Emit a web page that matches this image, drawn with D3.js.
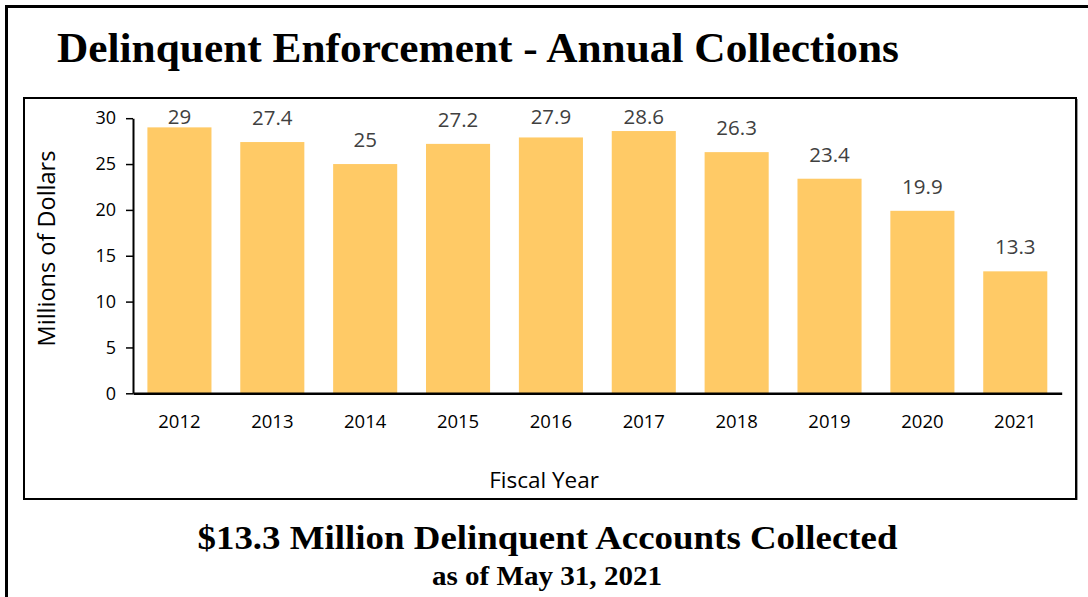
<!DOCTYPE html>
<html>
<head>
<meta charset="utf-8">
<script src="https://cdn.jsdelivr.net/npm/d3@7"></script>
<style>
  html, body { margin: 0; padding: 0; background: #fff; }
  svg { display: block; }
</style>
</head>
<body>
<svg id="chart" width="1088" height="597"></svg>
<script>
// Annual collections from delinquent enforcement, millions of dollars
const years = ["2012", "2013", "2014", "2015", "2016", "2017", "2018", "2019", "2020", "2021"];
const collections = [29, 27.4, 25, 27.2, 27.9, 28.6, 26.3, 23.4, 19.9, 13.3];
const yTicks = [0, 5, 10, 15, 20, 25, 30];

const titleText = "Delinquent Enforcement - Annual Collections";
const summaryText = "$13.3 Million Delinquent Accounts Collected";
const asOfText = "as of May 31, 2021";

const svg = d3.select("#chart");
const sans = "'Open Sans', 'Noto Sans', sans-serif";
const serif = "'Liberation Serif', 'Times New Roman', serif";

// Page frame (runs off the right and bottom edges)
svg.append("rect")
  .attr("x", 6.5).attr("y", 6.5)
  .attr("width", 1200).attr("height", 800)
  .attr("fill", "none").attr("stroke", "#000").attr("stroke-width", 3);

// Title
svg.append("text")
  .attr("x", 57).attr("y", 62)
  .attr("font-family", serif).attr("font-weight", "bold")
  .attr("font-size", 43).attr("fill", "#000")
  .attr("textLength", 842).attr("lengthAdjust", "spacingAndGlyphs")
  .text(titleText);

// Chart box
svg.append("rect")
  .attr("x", 24).attr("y", 98)
  .attr("width", 1052).attr("height", 401)
  .attr("fill", "#fff").attr("stroke", "#000").attr("stroke-width", 2);
svg.append("line")
  .attr("x1", 1077.5).attr("x2", 1077.5)
  .attr("y1", 99).attr("y2", 500)
  .attr("stroke", "#9a9a9a").attr("stroke-width", 1);

const x = d3.scaleBand()
  .domain(years)
  .range([133, 1061.7])
  .paddingInner(0.31)
  .paddingOuter(0.155);

const y = d3.scaleLinear()
  .domain([0, 30])
  .range([393.3, 118.2]);

// Bars
svg.append("g")
  .selectAll("rect")
  .data(years)
  .join("rect")
  .attr("x", d => x(d))
  .attr("width", x.bandwidth())
  .attr("y", (d, i) => y(collections[i]))
  .attr("height", (d, i) => y(0) - y(collections[i]))
  .attr("fill", "#FFCA66");

// Value labels, kept inside the plot area at the top
const labelTop = y(30) + 6;
svg.append("g")
  .selectAll("text")
  .data(years)
  .join("text")
  .attr("x", d => x(d) + x.bandwidth() / 2)
  .attr("y", (d, i) => Math.max(y(collections[i]) - 17, labelTop))
  .attr("text-anchor", "middle")
  .attr("font-family", sans).attr("font-size", 20.5)
  .attr("fill", "#404040")
  .text((d, i) => collections[i]);

// Y axis
const yAxis = svg.append("g")
  .attr("transform", "translate(133,0)")
  .call(d3.axisLeft(y).tickValues(yTicks).tickSize(7).tickPadding(10).tickSizeOuter(0));
yAxis.select(".domain").attr("stroke", "#000").attr("stroke-width", 2);
yAxis.selectAll(".tick line").attr("stroke", "#000").attr("stroke-width", 1.5);
yAxis.selectAll(".tick text")
  .attr("font-family", sans).attr("font-size", 18).attr("fill", "#000");

// X axis
const xAxis = svg.append("g")
  .attr("transform", "translate(0,393.3)")
  .call(d3.axisBottom(x).tickSize(0).tickPadding(22).tickSizeOuter(0));
xAxis.select(".domain").attr("stroke", "#000").attr("stroke-width", 2.5);
xAxis.selectAll(".tick text")
  .attr("font-family", sans).attr("font-size", 18.5).attr("fill", "#000");

// Axis titles
svg.append("text")
  .attr("x", 544).attr("y", 488)
  .attr("text-anchor", "middle")
  .attr("font-family", sans).attr("font-size", 22.5).attr("fill", "#000")
  .text("Fiscal Year");

svg.append("text")
  .attr("transform", "translate(54.5,248.5) rotate(-90)")
  .attr("text-anchor", "middle")
  .attr("font-family", sans).attr("font-size", 23.5).attr("fill", "#000")
  .text("Millions of Dollars");

// Summary lines beneath the chart
svg.append("text")
  .attr("x", 547.5).attr("y", 549)
  .attr("text-anchor", "middle")
  .attr("font-family", serif).attr("font-weight", "bold")
  .attr("font-size", 34).attr("fill", "#000")
  .attr("textLength", 700).attr("lengthAdjust", "spacingAndGlyphs")
  .text(summaryText);

svg.append("text")
  .attr("x", 547).attr("y", 585)
  .attr("text-anchor", "middle")
  .attr("font-family", serif).attr("font-weight", "bold")
  .attr("font-size", 28).attr("fill", "#000")
  .attr("textLength", 230).attr("lengthAdjust", "spacingAndGlyphs")
  .text(asOfText);
</script>
</body>
</html>
